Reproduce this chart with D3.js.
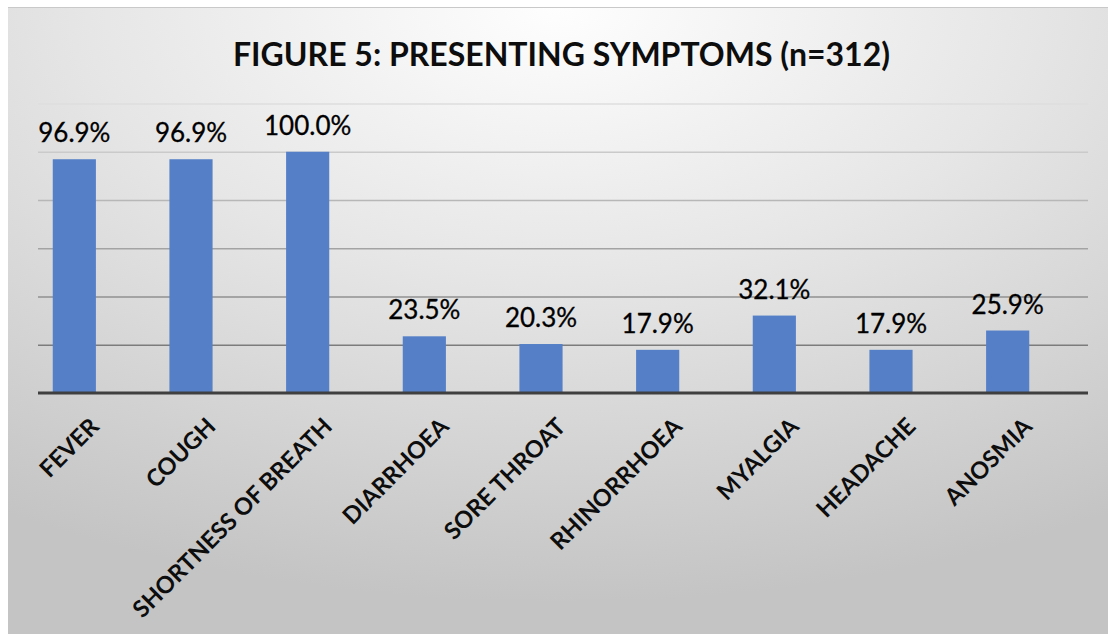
<!DOCTYPE html>
<html>
<head>
<meta charset="utf-8">
<script src="https://cdn.jsdelivr.net/npm/d3@7"></script>
<style>
  html, body { margin: 0; padding: 0; background: #ffffff; }
  svg { display: block; }
</style>
</head>
<body>
<div id="chart"></div>
<script>
const categories = ["FEVER", "COUGH", "SHORTNESS OF BREATH", "DIARRHOEA", "SORE THROAT", "RHINORRHOEA", "MYALGIA", "HEADACHE", "ANOSMIA"];
const values = [96.9, 96.9, 100.0, 23.5, 20.3, 17.9, 32.1, 17.9, 25.9];
const gridTicks = [0, 20, 40, 60, 80, 100, 120];
const title = "FIGURE 5: PRESENTING SYMPTOMS (n=312)";

const W = 1108, H = 634;
const svg = d3.select("#chart").append("svg").attr("width", W).attr("height", H);

const defs = svg.append("defs");
const bg = defs.append("radialGradient").attr("id", "bg")
  .attr("cx", "50%").attr("cy", "0%").attr("r", "95%").attr("fx", "50%").attr("fy", "0%");
bg.append("stop").attr("offset", "0%").attr("stop-color", "#fefefe");
bg.append("stop").attr("offset", "45%").attr("stop-color", "#e6e6e6");
bg.append("stop").attr("offset", "100%").attr("stop-color", "#c4c4c4");

// chart area frame
svg.append("rect").attr("x", 8).attr("y", 7).attr("width", W - 8).attr("height", H - 7).attr("fill", "url(#bg)");
svg.append("line").attr("x1", 8).attr("x2", W).attr("y1", 7.5).attr("y2", 7.5).attr("stroke", "#c9c9c9").attr("stroke-width", 1);

const plot = { left: 38, right: 1088, top: 103.5, bottom: 393 };

// bars sit slightly left of the gridline span, as in the reference
const x = d3.scaleBand().domain(categories).range([16, 1066]).paddingInner(0.63).paddingOuter(0.315);
const y = d3.scaleLinear().domain([0, 120]).range([plot.bottom, plot.top]);

const gridColor = d3.scaleLinear().domain([120, 20]).range(["#dedede", "#7c7c7c"]).interpolate(d3.interpolateRgb);

// gridlines via axis
const gridAxis = d3.axisLeft(y).tickValues(gridTicks.filter(t => t > 0)).tickSize(-(plot.right - plot.left)).tickFormat("");
const gG = svg.append("g").attr("transform", `translate(${plot.left},0)`).call(gridAxis);
gG.select(".domain").remove();
gG.selectAll(".tick line").attr("stroke", d => gridColor(d)).attr("stroke-width", 1.6);

// bars
svg.append("g").selectAll("rect").data(values).join("rect")
  .attr("x", (d, i) => x(categories[i]))
  .attr("y", d => y(d))
  .attr("width", x.bandwidth())
  .attr("height", d => y(0) - y(d))
  .attr("fill", "#5580c8");

// baseline
svg.append("line")
  .attr("x1", plot.left).attr("x2", plot.right)
  .attr("y1", y(0)).attr("y2", y(0))
  .attr("stroke", "#3f3f3f").attr("stroke-width", 3);

// data labels
svg.append("g").selectAll("text").data(values).join("text")
  .attr("x", (d, i) => x(categories[i]) + x.bandwidth() / 2)
  .attr("y", d => y(d) - 17)
  .attr("text-anchor", "middle")
  .attr("font-family", "Lato, 'Open Sans', sans-serif")
  .attr("font-size", 26)
  .attr("fill", "#000")
  .attr("stroke", "#000").attr("stroke-width", 0.3)
  .text(d => d.toFixed(1) + "%");

// category labels
svg.append("g").selectAll("text").data(categories).join("text")
  .attr("transform", d => `translate(${x(d) + x.bandwidth() / 2 + 26},${y(0) + 35}) rotate(-45)`)
  .attr("text-anchor", "end")
  .attr("font-family", "Lato, 'Open Sans', sans-serif")
  .attr("font-weight", "bold")
  .attr("font-size", 23.5)
  .attr("fill", "#0d0d0d")
  .text(d => d);

// title
svg.append("text")
  .attr("x", 561.5).attr("y", 66)
  .attr("text-anchor", "middle")
  .attr("font-family", "Lato, 'Open Sans', sans-serif")
  .attr("font-weight", "bold")
  .attr("font-size", 32)
  .attr("fill", "#0d0d0d")
  .attr("textLength", 657)
  .attr("lengthAdjust", "spacingAndGlyphs")
  .text(title);
</script>
</body>
</html>
